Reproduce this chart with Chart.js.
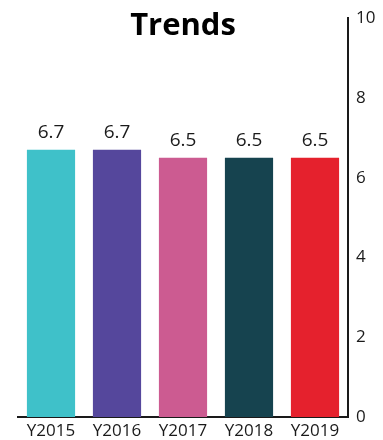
<!DOCTYPE html>
<html>
<head>
<meta charset="utf-8">
<script src="https://cdn.jsdelivr.net/npm/chart.js@4/dist/chart.umd.min.js"></script>
<style>
  html, body { margin: 0; padding: 0; background: #fff; }
  #wrap { width: 383px; height: 440px; }
</style>
</head>
<body>
<div id="wrap"><canvas id="myChart" width="383" height="440"></canvas></div>
<script>
var categories = ["Y2015", "Y2016", "Y2017", "Y2018", "Y2019"];
var values = [6.7, 6.7, 6.5, 6.5, 6.5];
var barColors = ["#3fc1c9", "#55479c", "#cc5b91", "#16434f", "#e5212d"];
var yTicks = [0, 2, 4, 6, 8, 10];
var chartTitle = "Trends";

var fontFamily = "'Open Sans', 'Noto Sans', sans-serif";

// value labels above bars + title drawn over the plot
var labelsPlugin = {
  id: "barLabels",
  afterDatasetsDraw: function(chart) {
    var ctx = chart.ctx;
    var meta = chart.getDatasetMeta(0);
    ctx.save();
    ctx.fillStyle = "#1a1a1a";
    ctx.font = "19px " + fontFamily;
    ctx.textAlign = "center";
    ctx.textBaseline = "bottom";
    meta.data.forEach(function(bar, i) {
      ctx.fillText(values[i].toFixed(1), bar.x, bar.y - 8);
    });

    var area = chart.chartArea;
    ctx.fillStyle = "#000";
    ctx.font = "bold 31px " + fontFamily;
    ctx.textBaseline = "alphabetic";
    ctx.fillText(chartTitle, (area.left + area.right) / 2, 35);
    ctx.restore();
  }
};

function getChart() {
  var ctx = document.getElementById("myChart").getContext("2d");
  var chart = new Chart(ctx, {
    type: "bar",
    data: {
      labels: categories,
      datasets: [{
        data: values,
        backgroundColor: barColors,
        borderWidth: 0,
        categoryPercentage: 1,
        barPercentage: 0.73
      }]
    },
    options: {
      responsive: false,
      animation: false,
      layout: { padding: { top: 17, left: 18, right: 0, bottom: 0 } },
      plugins: {
        legend: { display: false },
        tooltip: { enabled: false }
      },
      scales: {
        x: {
          grid: { display: false, drawTicks: false },
          border: { display: true, color: "#1a1a1a", width: 2 },
          ticks: { color: "#1a1a1a", font: { family: fontFamily, size: 17 }, padding: 4 },
          afterFit: function(scale) { scale.height = 23; }
        },
        y: {
          position: "right",
          min: 0,
          max: 10,
          afterBuildTicks: function(scale) {
            scale.ticks = yTicks.map(function(v) { return { value: v }; });
          },
          grid: { display: false, drawTicks: false },
          border: { display: true, color: "#1a1a1a", width: 2 },
          ticks: { color: "#1a1a1a", font: { family: fontFamily, size: 17 }, padding: 8 },
          afterFit: function(scale) { scale.width = 35; }
        }
      }
    },
    plugins: [labelsPlugin]
  });
}

getChart();
</script>
</body>
</html>
